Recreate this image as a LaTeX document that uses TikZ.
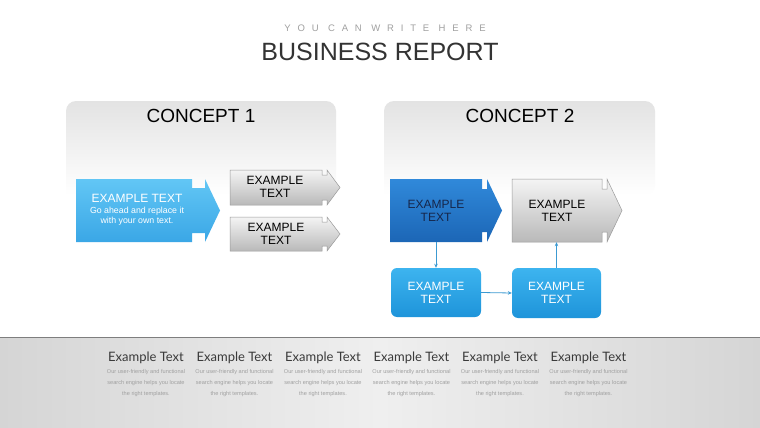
\documentclass[tikz,border=0pt]{standalone}
\usepackage{fontspec}
\setmainfont{Liberation Sans}
\newfontfamily\latofont{Lato}
\usetikzlibrary{arrows.meta}
\definecolor{titlegray}{HTML}{333333}
\definecolor{subgray}{HTML}{A0A0A0}
\definecolor{panelgray}{HTML}{E3E3E3}
\definecolor{lightblueA}{HTML}{62C6F5}
\definecolor{lightblueB}{HTML}{3AA7E6}
\definecolor{darkblueA}{HTML}{3089DA}
\definecolor{darkblueB}{HTML}{1C66B6}
\definecolor{midblueA}{HTML}{3DB4EF}
\definecolor{midblueB}{HTML}{1E94DA}
\definecolor{grayA}{HTML}{F4F4F4}
\definecolor{grayB}{HTML}{B9B9B9}
\definecolor{grayline}{HTML}{9A9A9A}
\definecolor{navytext}{HTML}{16264A}
\definecolor{connblue}{HTML}{3C9AD2}
\definecolor{bandedge}{HTML}{D5D5D5}
\definecolor{bandmid}{HTML}{EFEFEF}
\definecolor{bandline}{HTML}{7E7E7E}
\definecolor{smalltext}{HTML}{A0A0A0}
\definecolor{headtext}{HTML}{3A3A3A}
\tikzset{
  boxtext/.style={align=center,font=\fontsize{12}{13}\selectfont,inner sep=0pt},
  bodybox/.style={draw=none,inner sep=0pt,align=center,font=\fontsize{12}{13}\selectfont},
  smallbox/.style={rounded corners=6pt,top color=midblueA,bottom color=midblueB,draw=none,
    align=center,text=white,font=\fontsize{12}{13}\selectfont,inner sep=0pt},
  conn/.style={draw=connblue,line width=0.8pt,-{Stealth[length=4pt,width=3.5pt]}},
  panel/.style={top color=panelgray,bottom color=white,draw=none},
  headline/.style={font=\latofont\fontsize{13}{14}\selectfont,text=headtext},
  smallline/.style={font=\fontsize{5.6}{11.3}\selectfont,text=smalltext,align=center},
}
\begin{document}
\begin{tikzpicture}[x=1pt,y=-1pt]
\useasboundingbox (0,0) rectangle (760,428);
\fill[white] (0,0) rectangle (760,428);

% titles
\node[text=subgray,font=\fontsize{9.5}{10}\selectfont\addfontfeature{LetterSpace=72}] (sub) at (385,28) {YOU CAN WRITE HERE};
\node[text=titlegray,font=\fontsize{25}{28}\selectfont] (title) at (380,52) {BUSINESS REPORT};

% panels
\shade[panel,rounded corners=10pt] (66,195) -- (66,101) -- (336,101) -- (336,195) [sharp corners] -- cycle;
\shade[panel,rounded corners=10pt] (384,195) -- (384,101) -- (655,101) -- (655,195) [sharp corners] -- cycle;
\node[text=black,font=\fontsize{19}{20}\selectfont] (c1) at (201,116) {CONCEPT 1};
\node[text=black,font=\fontsize{19}{20}\selectfont] (c2) at (520,116) {CONCEPT 2};

% concept 1 blue arrow
\shade[top color=lightblueA,bottom color=lightblueB]
  (76,179) -- (192,179) -- (192,188) -- (205,188) -- (205,179) -- (220,210.5) -- (205,242) -- (205,233) -- (192,233) -- (192,242) -- (76,242) -- cycle;
\node[bodybox,minimum width=116pt,minimum height=63pt,text=white] (b1) at (134,210.5) {};
\node[text=white,font=\fontsize{12}{13}\selectfont] (b1t) at (137,198) {EXAMPLE TEXT};
\node[text=white,font=\fontsize{8.8}{10.4}\selectfont,align=center] (b1s) at (137,216) {Go ahead and replace it\\with your own text.};

% concept 1 gray arrows
\shade[top color=grayA,bottom color=grayB,draw=grayline,line width=0.5pt]
  (230,170) -- (322,170) -- (322,175) -- (327,175) -- (327,170) -- (340,187.5) -- (327,205) -- (327,200) -- (322,200) -- (322,205) -- (230,205) -- cycle;
\node[bodybox,minimum width=92pt,minimum height=35pt,text=black] (g1) at (275,186.5) {EXAMPLE\\TEXT};
\shade[top color=grayA,bottom color=grayB,draw=grayline,line width=0.5pt]
  (230,217) -- (322,217) -- (322,222) -- (327,222) -- (327,217) -- (340,234) -- (327,251) -- (327,246) -- (322,246) -- (322,251) -- (230,251) -- cycle;
\node[bodybox,minimum width=92pt,minimum height=34pt,text=black] (g2) at (276,233.5) {EXAMPLE\\TEXT};

% concept 2 dark blue arrow
\shade[top color=darkblueA,bottom color=darkblueB]
  (390,179) -- (482,179) -- (482,189) -- (487,189) -- (487,179) -- (502,210.5) -- (487,242) -- (487,232) -- (482,232) -- (482,242) -- (390,242) -- cycle;
\node[bodybox,minimum width=92pt,minimum height=63pt,text=navytext] (b2) at (436,210.5) {EXAMPLE\\TEXT};

% concept 2 gray arrow
\shade[top color=grayA,bottom color=grayB,draw=grayline,line width=0.5pt]
  (512,179) -- (602,179) -- (602,189) -- (607,189) -- (607,179) -- (622,210.5) -- (607,242) -- (607,232) -- (602,232) -- (602,242) -- (512,242) -- cycle;
\node[bodybox,minimum width=90pt,minimum height=63pt,text=black] (g3) at (557,210.5) {EXAMPLE\\TEXT};

% small boxes
\node[smallbox,minimum width=90pt,minimum height=49pt] (s1) at (436,292.5) {EXAMPLE\\TEXT};
\node[smallbox,minimum width=89pt,minimum height=50pt] (s2) at (556.5,293) {EXAMPLE\\TEXT};

% connectors
\draw[conn] (b2.south) -- (s1.north);
\draw[conn] (s1.east) -- (s2.west);
\draw[conn] (s2.north) -- (g3.south -| s2.north);

% bottom band
\shade[left color=bandedge,right color=bandedge,middle color=bandmid] (0,337) rectangle (760,428);
\draw[bandline,line width=1pt] (0,337) -- (760,337);

\foreach \i/\x in {1/146,2/234.5,3/323,4/411.5,5/500,6/588.5}{
  \node[headline] (h\i) at (\x,357.5) {Example Text};
  \node[smallline] (p\i) at (\x,383) {Our user-friendly and functional\\search engine helps you locate\\the right templates.};
}
\end{tikzpicture}
\end{document}
